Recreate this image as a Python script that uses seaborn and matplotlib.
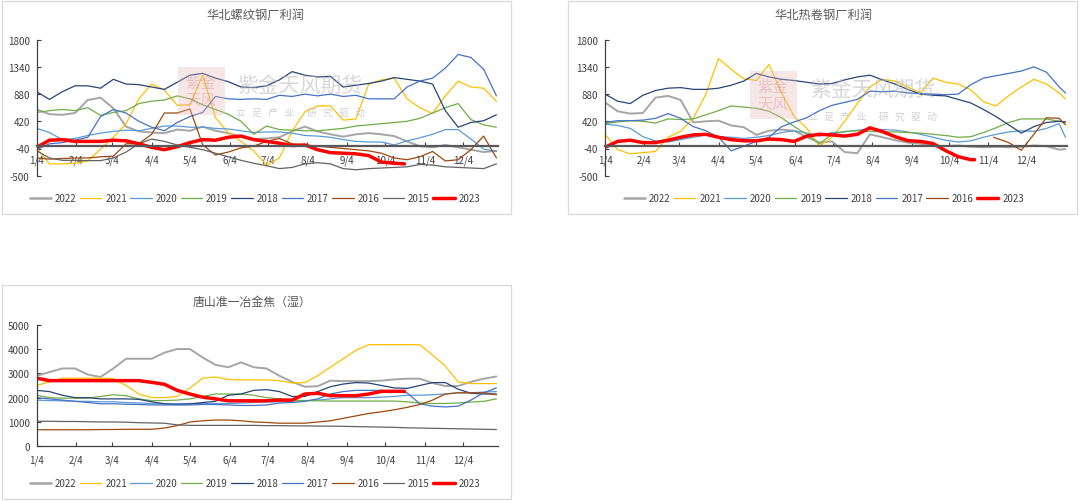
import numpy as np
import pandas as pd
import matplotlib
matplotlib.use('Agg')
import matplotlib.pyplot as plt
import seaborn as sns
from matplotlib.lines import Line2D
from matplotlib.patches import Rectangle

sns.set_theme(style='white')
plt.rcParams['font.family'] = ['Noto Sans CJK SC', 'DejaVu Sans']
plt.rcParams['axes.unicode_minus'] = False

# ---------------- data ----------------
month_ticks = [0, 31, 59, 90, 120, 151, 181, 212, 243, 273, 304, 334]
month_labels = ['1/4', '2/4', '3/4', '4/4', '5/4', '6/4', '7/4', '8/4', '9/4', '10/4', '11/4', '12/4']

days = list(range(0, 361, 10))
days_hrc = days + [365]
days_red_rebar = list(range(0, 281, 10)) + [288]
days_red_hrc = list(range(0, 291, 10)) + [293]
days_red_coke = list(range(0, 281, 10)) + [288]
days_hrc_2016 = [308, 320, 330, 340, 350, 360, 365]

# 华北螺纹钢厂利润 (rebar profit)
rebar_2022 = [620, 540, 530, 560, 780, 820, 640, 330, 250, 230, 220, 280, 260, 330, 260, 220, 160, 120, 130,
              150, 250, 330, 250, 200, 160, 200, 220, 200, 170, 80, 0, -20, 20, -20, -60, -100, -80]
rebar_2021 = [-30, -300, -300, -290, -250, -50, 150, 380, 800, 1050, 950, 690, 700, 1200, 480, 230, 80, -80, -320,
              -200, 250, 580, 680, 680, 440, 460, 1050, 1120, 1150, 800, 650, 550, 850, 1100, 1000, 980, 760]
rebar_2020 = [300, 230, 110, 130, 180, 220, 250, 270, 260, 300, 340, 340, 320, 320, 300, 290, 260, 230, 240,
              240, 220, 180, 170, 150, 110, 80, 70, 70, 20, 90, 140, 200, 280, 280, 120, -50, -90]
rebar_2019 = [570, 600, 620, 600, 650, 520, 570, 600, 720, 760, 780, 850, 800, 700, 620, 540, 420, 200, 340,
              280, 270, 260, 260, 280, 300, 340, 360, 380, 400, 420, 470, 560, 650, 720, 450, 360, 320]
rebar_2018 = [920, 790, 920, 1020, 1020, 980, 1130, 1050, 1040, 1000, 960, 1080, 1200, 1230, 1150, 1090, 1000, 990,
              1020, 1120, 1260, 1200, 1170, 1180, 1000, 1030, 1060, 1100, 1160, 1130, 1100, 1050, 600, 320, 400,
              430, 530]
rebar_2017 = [-60, 40, 60, 100, 150, 500, 620, 560, 420, 320, 260, 400, 500, 570, 840, 800, 790, 800, 790,
              860, 840, 880, 850, 880, 840, 860, 800, 800, 800, 1000, 1100, 1150, 1320, 1550, 1500, 1300, 850]
rebar_2016 = [-200, -220, -210, -200, -200, -180, -170, 40, 40, 200, 560, 560, 630, 20, -150, -100, -30, 0, 80,
              130, 40, 20, 0, -20, -40, -60, -80, -120, -200, -230, -180, -90, -250, -230, -60, 170, -200]
rebar_2015 = [-80, -200, -240, -240, -245, -245, -200, -100, 40, 120, 80, 20, -20, -60, -120, -180, -240, -290,
              -330, -380, -360, -300, -280, -300, -380, -400, -380, -370, -360, -350, -310, -320, -350, -360,
              -370, -380, -300]
rebar_2023 = [-20, 100, 110, 80, 80, 80, 100, 90, 40, -20, -60, -10, 60, 110, 100, 150, 170, 110, 80, 50, 10,
              20, -60, -110, -120, -130, -160, -270, -290, -300]

# 华北热卷钢厂利润 (hot-rolled coil profit)
hrc_2022 = [740, 590, 550, 560, 820, 850, 780, 400, 420, 430, 350, 320, 190, 260, 280, 260, 150, 60, 80, -100,
            -120, 200, 150, 100, 60, 40, 10, 0, 10, -10, -20, -10, -20, -10, 10, 0, -60, -50]
hrc_2021 = [200, -60, -130, -110, -90, 150, 250, 470, 880, 1480, 1300, 1140, 1110, 1380, 900, 500, 300, 0, 150,
            420, 720, 1000, 1130, 1100, 1000, 900, 1150, 1080, 1050, 950, 750, 680, 850, 1000, 1130, 1050, 900, 800]
hrc_2020 = [370, 350, 300, 160, 90, 70, 110, 150, 190, 160, 150, 130, 150, 180, 230, 260, 220, 170, 230, 240,
            270, 290, 280, 270, 240, 200, 150, 100, 70, 90, 150, 200, 240, 260, 250, 300, 380, 150]
hrc_2019 = [380, 410, 430, 420, 390, 460, 450, 460, 530, 600, 680, 660, 640, 590, 480, 330, 200, 40, 200, 250,
            260, 250, 240, 240, 230, 220, 200, 180, 150, 160, 230, 310, 400, 460, 460, 460, 420, 400]
hrc_2018 = [880, 760, 720, 860, 940, 980, 990, 960, 960, 980, 1030, 1100, 1230, 1170, 1130, 1110, 1080, 1050,
            1060, 1120, 1170, 1200, 1120, 1050, 960, 880, 860, 850, 790, 730, 620, 500, 360, 220, 330, 400, 420, 410]
hrc_2017 = [400, 430, 430, 440, 470, 550, 470, 330, 260, 150, -80, 0, 80, 150, 330, 410, 480, 600, 690, 740,
            790, 930, 920, 930, 900, 890, 880, 870, 880, 1040, 1150, 1190, 1230, 1270, 1340, 1250, 1000, 900]
hrc_2016 = [150, 60, -70, 200, 480, 470, 360]
hrc_2023 = [-20, 80, 100, 60, 60, 100, 150, 190, 200, 150, 110, 90, 90, 120, 110, 80, 170, 200, 190, 170, 200,
            310, 245, 160, 93, 80, 45, -76, -178, -229, -230]

# 唐山准一冶金焦（湿） (coke price)
coke_2022 = [2900, 3050, 3200, 3200, 2950, 2850, 3200, 3600, 3600, 3600, 3850, 4000, 4000, 3650, 3350, 3250, 3450,
             3250, 3200, 2900, 2650, 2450, 2470, 2700, 2680, 2680, 2680, 2700, 2750, 2780, 2780, 2600, 2480, 2480,
             2650, 2780, 2870]
coke_2021 = [2500, 2650, 2800, 2800, 2800, 2800, 2780, 2500, 2150, 2000, 2000, 2050, 2400, 2800, 2850, 2750, 2730,
             2730, 2730, 2700, 2600, 2620, 2900, 3250, 3600, 3950, 4180, 4180, 4180, 4180, 4180, 3750, 3300, 2650,
             2580, 2580, 2580]
coke_2020 = [1900, 1880, 1870, 1850, 1850, 1830, 1830, 1800, 1780, 1760, 1750, 1750, 1760, 1760, 1760, 1760, 1780,
             1800, 1820, 1840, 1860, 1880, 1900, 1950, 2000, 2000, 2000, 2020, 2050, 2100, 2100, 2120, 2150, 2200,
             2200, 2230, 2250]
coke_2019 = [2100, 2000, 1980, 1980, 1980, 2050, 2120, 2080, 1950, 1880, 1880, 1900, 1950, 2050, 2150, 2150, 2150,
             2100, 2000, 1950, 1900, 1880, 1870, 1860, 1860, 1860, 1860, 1860, 1860, 1830, 1780, 1760, 1760, 1780,
             1820, 1850, 1950]
coke_2018 = [2300, 2250, 2100, 2000, 2000, 1950, 1950, 1950, 1930, 1830, 1750, 1720, 1740, 1800, 1850, 2100, 2150,
             2300, 2330, 2250, 2050, 2050, 2250, 2450, 2560, 2620, 2600, 2500, 2400, 2380, 2500, 2620, 2620, 2350,
             2180, 2150, 2150]
coke_2017 = [2000, 1950, 1900, 1850, 1800, 1750, 1750, 1730, 1720, 1700, 1700, 1700, 1700, 1720, 1720, 1700, 1680,
             1680, 1700, 1780, 1800, 1850, 1950, 2150, 2250, 2300, 2300, 2300, 2250, 2200, 1750, 1650, 1620, 1650,
             1900, 2200, 2400]
coke_2016 = [680, 680, 680, 680, 680, 690, 690, 700, 700, 700, 750, 850, 1000, 1050, 1080, 1080, 1050, 1000, 980,
             950, 950, 950, 1000, 1050, 1150, 1250, 1350, 1420, 1500, 1600, 1720, 1900, 2150, 2200, 2200, 2200, 2120]
coke_2015 = [1030, 1030, 1020, 1020, 1010, 1000, 1000, 990, 970, 960, 950, 880, 860, 860, 860, 860, 860, 860, 850,
             850, 840, 840, 830, 830, 820, 810, 800, 790, 780, 760, 750, 740, 730, 720, 710, 700, 690]
coke_2023 = [2800, 2700, 2700, 2700, 2700, 2700, 2700, 2700, 2700, 2630, 2550, 2300, 2150, 2020, 1950, 1870, 1870,
             1870, 1870, 1900, 1900, 2150, 2180, 2080, 2080, 2080, 2150, 2260, 2260, 2260]

# ---------------- style ----------------
colors = {'2022': '#A5A5A5', '2021': '#FFC000', '2020': '#5B9BD5', '2019': '#70AD47', '2018': '#264478',
          '2017': '#4472C4', '2016': '#9E480E', '2015': '#636363', '2023': '#FF0000'}
widths = {'2022': 1.4, '2021': 0.9, '2020': 0.9, '2019': 0.9, '2018': 0.9, '2017': 0.9, '2016': 0.9,
          '2015': 0.9, '2023': 2.5}
TXT = '#404040'

W, H = 1080, 502
fig = plt.figure(figsize=(W / 100, H / 100), dpi=100)
fig.patch.set_facecolor('white')


def px_axes(x0, y0, x1, y1):
    return fig.add_axes([x0 / W, 1 - y1 / H, (x1 - x0) / W, (y1 - y0) / H])


def box(x0, y0, x1, y1):
    fig.add_artist(Rectangle((x0 / W, 1 - y1 / H), (x1 - x0) / W, (y1 - y0) / H, transform=fig.transFigure,
                             fill=False, edgecolor='#D9D9D9', lw=0.9))


def long_df(series):
    frames = []
    for yr, (d, v) in series.items():
        frames.append(pd.DataFrame({'day': d, 'value': v, 'year': yr}))
    return pd.concat(frames, ignore_index=True)


def draw(ax, series, order, ylim, yticks, xmax, zero_axis):
    df = long_df(series)
    sns.lineplot(data=df, x='day', y='value', hue='year', size='year', hue_order=order, size_order=order,
                 palette=colors, sizes=widths, estimator=None, errorbar=None, legend=False, ax=ax)
    ax.set_xlim(0, xmax)
    ax.set_ylim(*ylim)
    ax.set_yticks(yticks)
    ax.set_yticklabels([str(t) for t in yticks])
    ax.set_xticks(month_ticks)
    ax.set_xticklabels(month_labels)
    ax.set_xlabel('')
    ax.set_ylabel('')
    ax.set_facecolor('none')
    for s in ['top', 'right']:
        ax.spines[s].set_visible(False)
    ax.spines['left'].set_color(TXT)
    ax.spines['left'].set_linewidth(0.9)
    ax.spines['bottom'].set_position(('data', 0))
    if zero_axis:
        ax.spines['bottom'].set_color('#595959')
        ax.spines['bottom'].set_linewidth(1.6)
    else:
        ax.spines['bottom'].set_color(TXT)
        ax.spines['bottom'].set_linewidth(0.9)
    ax.tick_params(axis='y', direction='in', length=3, width=0.8, colors=TXT, labelsize=7, pad=5, left=True)
    ax.tick_params(axis='x', direction='in', length=3, width=0.8, colors=TXT, labelsize=7, pad=6, bottom=True)
    ax.grid(False)


def legend(ax, order, x, y):
    handles = [Line2D([0], [0], color=colors[k], lw=widths[k] if k != '2022' else 1.8) for k in order]
    ax.legend(handles, order, loc='center', bbox_to_anchor=(x, y), ncol=len(order), frameon=False,
              fontsize=7, handlelength=2.2, handletextpad=0.4, columnspacing=0.35, labelcolor=TXT)


def watermark(sx, sy, tx, ty):
    fig.add_artist(Rectangle((sx / W, 1 - (sy + 48) / H), 47 / W, 48 / H, transform=fig.transFigure,
                             facecolor='#E9B9B9', edgecolor='none', alpha=0.35, zorder=5))
    fig.text(sx / W + 23 / W, 1 - (sy + 24) / H, '紫金\n天风', ha='center', va='center', fontsize=11,
             color='#D08080', alpha=0.35, linespacing=1.0, zorder=6)
    fig.text(tx / W, 1 - ty / H, '紫金天风期货', ha='center', va='center', fontsize=15, color='#B8B8B8',
             alpha=0.55, zorder=6)
    fig.text(tx / W, 1 - (ty + 27) / H, '立   足   产   业      研   究   驱   动', ha='center', va='center',
             fontsize=7, color='#BFBFBF', alpha=0.7, zorder=6)


# boxes
box(2, 2, 511, 215)
box(568, 2, 1077, 215)
box(2, 286, 511, 500)

order_all = ['2022', '2021', '2020', '2019', '2018', '2017', '2016', '2015', '2023']
order_hrc = ['2022', '2021', '2020', '2019', '2018', '2017', '2016', '2023']

# top-left
ax1 = px_axes(36.7, 40.7, 497.7, 176.7)
rebar = {'2022': (days, rebar_2022), '2021': (days, rebar_2021), '2020': (days, rebar_2020),
         '2019': (days, rebar_2019), '2018': (days, rebar_2018), '2017': (days, rebar_2017),
         '2016': (days, rebar_2016), '2015': (days, rebar_2015), '2023': (days_red_rebar, rebar_2023)}
draw(ax1, rebar, order_all, (-500, 1800), [-500, -40, 420, 880, 1340, 1800], 361, True)
legend(ax1, order_all, 0.4735, -0.164)
fig.text(255 / W, 1 - 15 / H, '华北螺纹钢厂利润', ha='center', va='center', fontsize=8.8, color='#595959')

# top-right
ax2 = px_axes(605, 40.7, 1066.7, 176.7)
hrc = {'2022': (days_hrc, hrc_2022), '2021': (days_hrc, hrc_2021), '2020': (days_hrc, hrc_2020),
       '2019': (days_hrc, hrc_2019), '2018': (days_hrc, hrc_2018), '2017': (days_hrc, hrc_2017),
       '2016': (days_hrc_2016, hrc_2016), '2023': (days_red_hrc, hrc_2023)}
draw(ax2, hrc, order_hrc, (-500, 1800), [-500, -40, 420, 880, 1340, 1800], 366, True)
legend(ax2, order_hrc, 0.474, -0.164)
fig.text(823 / W, 1 - 15 / H, '华北热卷钢厂利润', ha='center', va='center', fontsize=8.8, color='#595959')

# bottom-left
ax3 = px_axes(36.7, 325.7, 497.7, 447.3)
coke = {'2022': (days, coke_2022), '2021': (days, coke_2021), '2020': (days, coke_2020),
        '2019': (days, coke_2019), '2018': (days, coke_2018), '2017': (days, coke_2017),
        '2016': (days, coke_2016), '2015': (days, coke_2015), '2023': (days_red_coke, coke_2023)}
draw(ax3, coke, order_all, (0, 5000), [0, 1000, 2000, 3000, 4000, 5000], 361, False)
legend(ax3, order_all, 0.4735, -0.302)
fig.text(252 / W, 1 - 302 / H, '唐山准一冶金焦（湿）', ha='center', va='center', fontsize=8.6, color='#595959')

# watermarks
watermark(178, 68, 300, 86)
watermark(750, 72, 873, 90)

fig.savefig('out.png', dpi=100, facecolor='white')
